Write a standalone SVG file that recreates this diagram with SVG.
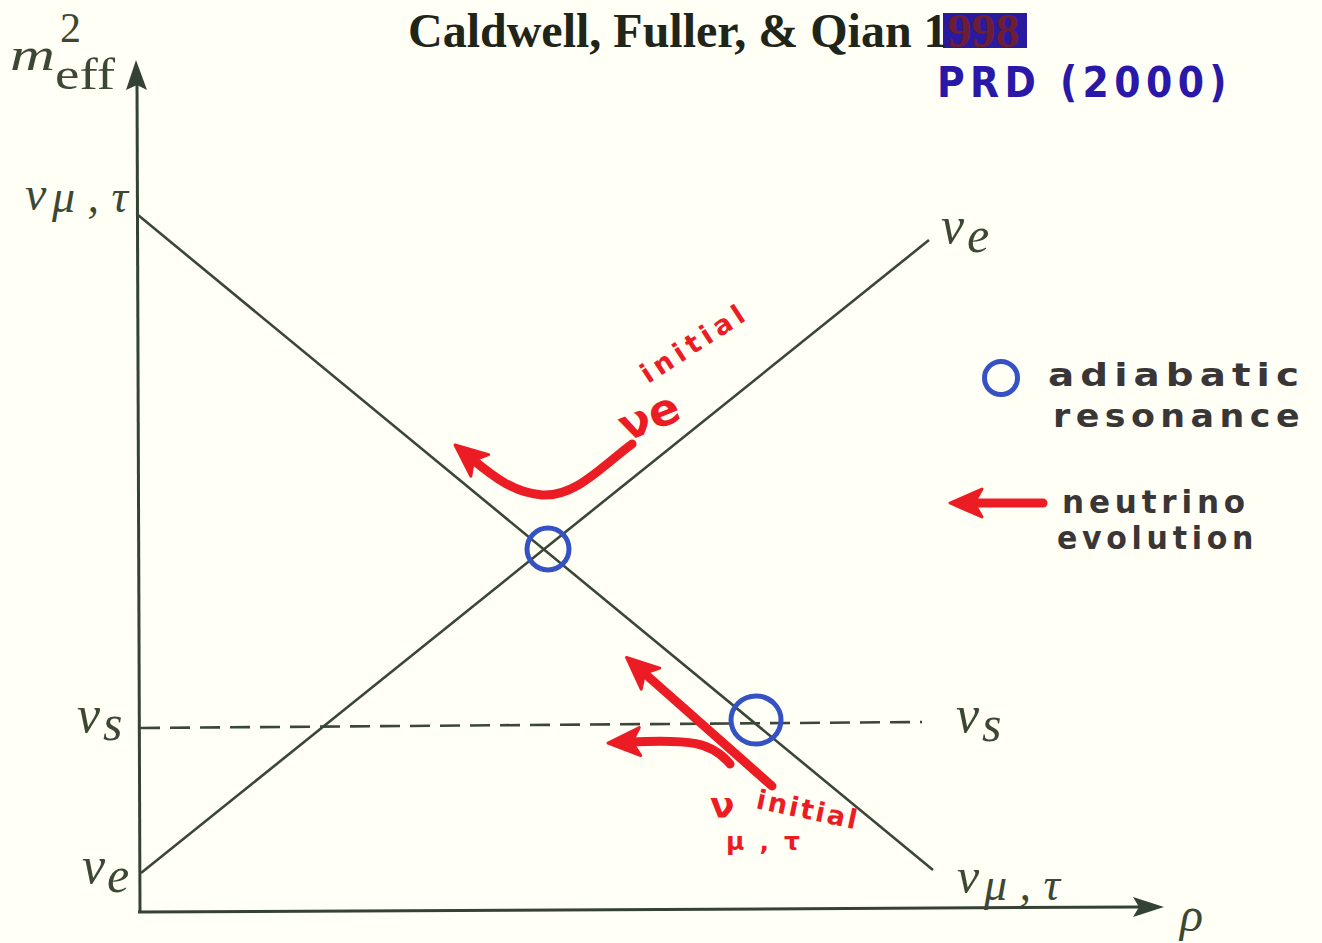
<svg xmlns="http://www.w3.org/2000/svg" width="1322" height="943" viewBox="0 0 1322 943">
  <style>
    .ax { stroke: #344232; stroke-width: 3; fill: none; }
    .ln { stroke: #3a4636; stroke-width: 2.6; fill: none; }
    .dash { stroke: #3a4636; stroke-width: 2.6; fill: none; stroke-dasharray: 20 10; }
    .axhead { fill: #344232; }
    .math { font-family: "Liberation Serif", "DejaVu Serif", serif; font-style: italic; fill: #3c4833; }
    .up { font-family: "Liberation Serif", "DejaVu Serif", serif; fill: #3c4833; }
    .title { font-family: "Liberation Serif", serif; font-weight: bold; font-size: 48px; fill: #1f2519; }
    .hand { font-family: "DejaVu Sans", "Noto Sans", sans-serif; font-weight: bold; }
    .legtxt { fill: #3a3636; font-size: 32px; letter-spacing: 5px; }
    .red { stroke: #ec1c24; stroke-width: 9; fill: none; stroke-linecap: round; stroke-linejoin: round; }
    .redtxt { fill: #ec1c24; }
    .res { stroke: #3552c4; stroke-width: 5; fill: none; }
  </style>
  <defs>
    <marker id="redhead" markerUnits="userSpaceOnUse" markerWidth="40" markerHeight="40" viewBox="0 0 40 40" refX="14" refY="20" orient="auto">
      <path d="M36,20 L4,6 L12,20 L4,34 Z" fill="#ec1c24" stroke="#ec1c24" stroke-width="3" stroke-linejoin="round"/>
    </marker>
  </defs>

  <rect width="1322" height="943" fill="#fffff6"/>

  <!-- Title -->
  <g id="title">
    <rect x="943" y="13" width="84" height="35" fill="#2a1aa0"/>
    <text class="title" x="408" y="47">Caldwell, Fuller, &amp; Qian 1<tspan fill="#6e1e34">998</tspan></text>
    <text class="hand" x="937" y="97" font-size="42" fill="#2a18a8" textLength="295" lengthAdjust="spacingAndGlyphs" letter-spacing="6">PRD (2000)</text>
  </g>

  <!-- Axes -->
  <g id="axes">
    <line class="ax" x1="140" y1="912" x2="137" y2="84"/>
    <polygon class="axhead" points="136,60 147,90 137,85 126,90"/>
    <line class="ax" x1="138" y1="912" x2="1140" y2="907"/>
    <polygon class="axhead" points="1164,907 1133,897 1139,907 1133,917"/>
    <text class="math" x="10" y="70" font-size="46" textLength="45" lengthAdjust="spacingAndGlyphs">m</text>
    <text class="up" x="55" y="89" font-size="44" textLength="60" lengthAdjust="spacingAndGlyphs">eff</text>
    <text class="up" x="60" y="42" font-size="42">2</text>
    <text class="math" x="1180" y="931" font-size="48">ρ</text>
  </g>

  <!-- Level lines (connectors) -->
  <g id="connectors">
    <line id="line-numutau" class="ln" x1="138" y1="215" x2="933" y2="870"/>
    <line id="line-nue" class="ln" x1="141" y1="873" x2="929" y2="240"/>
    <line id="line-nus" class="dash" x1="140" y1="728" x2="922" y2="722"/>
  </g>

  <!-- Axis labels -->
  <g id="label-numutau-left">
    <text class="math" x="25" y="210" font-size="48">ν</text>
    <text class="math" x="52" y="212" font-size="46" textLength="76">μ,τ</text>
  </g>
  <g id="label-nus-left">
    <text class="math" x="77" y="732" font-size="52">ν</text>
    <text class="math" x="103" y="740" font-size="50">s</text>
  </g>
  <g id="label-nue-left">
    <text class="math" x="82" y="883" font-size="52">ν</text>
    <text class="math" x="107" y="892" font-size="50">e</text>
  </g>
  <g id="label-nue-right">
    <text class="math" x="941" y="243" font-size="52">ν</text>
    <text class="math" x="967" y="252" font-size="50">e</text>
  </g>
  <g id="label-nus-right">
    <text class="math" x="956" y="732" font-size="52">ν</text>
    <text class="math" x="982" y="741" font-size="50">s</text>
  </g>
  <g id="label-numutau-right">
    <text class="math" x="957" y="893" font-size="50">ν</text>
    <text class="math" x="984" y="900" font-size="46" textLength="76">μ,τ</text>
  </g>

  <!-- Resonances -->
  <g id="resonance-1">
    <circle class="res" cx="548" cy="549" r="21"/>
  </g>
  <g id="resonance-2">
    <ellipse class="res" cx="756" cy="720" rx="25" ry="24"/>
  </g>

  <!-- Neutrino evolution arrows -->
  <g id="evolution-nue">
    <path class="red" d="M632,444 C600,468 575,497 542,495 C515,493 495,478 472,459" marker-end="url(#redhead)"/>
    <text class="hand redtxt" x="626" y="442" font-size="44" textLength="62" lengthAdjust="spacingAndGlyphs" transform="rotate(-22 626 442)">νe</text>
    <text class="hand redtxt" x="648" y="384" font-size="27" textLength="118" transform="rotate(-33 648 384)">initial</text>
  </g>
  <g id="evolution-numutau">
    <path class="red" d="M772,786 L643,672" marker-end="url(#redhead)"/>
    <path class="red" d="M730,764 C712,742 690,739 630,742" marker-end="url(#redhead)"/>
    <text class="hand redtxt" x="710" y="818" font-size="36">ν</text>
    <text class="hand redtxt" x="726" y="850" font-size="25" textLength="74">μ,τ</text>
    <text class="hand redtxt" x="755" y="808" font-size="27" textLength="102" transform="rotate(12 755 808)">initial</text>
  </g>

  <!-- Legend -->
  <g id="legend-resonance">
    <circle class="res" cx="1001" cy="378" r="16.5"/>
    <text class="hand legtxt" x="1048" y="386" textLength="257" lengthAdjust="spacingAndGlyphs">adiabatic</text>
    <text class="hand legtxt" x="1053" y="427" textLength="252" lengthAdjust="spacingAndGlyphs">resonance</text>
  </g>
  <g id="legend-evolution">
    <path class="red" d="M1043,503 L972,503" marker-end="url(#redhead)"/>
    <text class="hand legtxt" x="1062" y="513" textLength="188" lengthAdjust="spacingAndGlyphs">neutrino</text>
    <text class="hand legtxt" x="1057" y="549" textLength="201" lengthAdjust="spacingAndGlyphs">evolution</text>
  </g>
</svg>
